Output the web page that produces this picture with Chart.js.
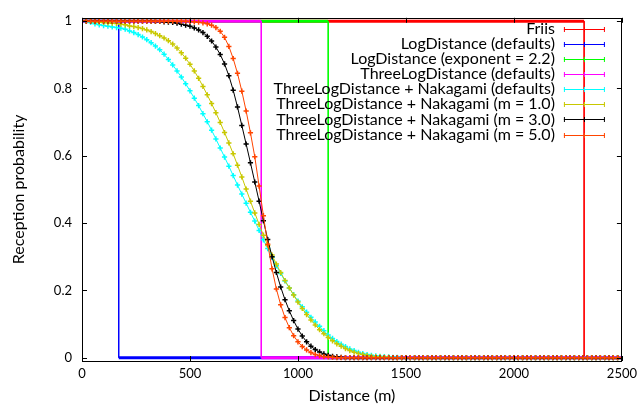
<!DOCTYPE html>
<html>
<head>
<meta charset="utf-8">
<title>Reception probability vs distance</title>
<script src="https://cdn.jsdelivr.net/npm/chart.js@4.4.0/dist/chart.umd.min.js"></script>
<style>
  html, body { margin: 0; padding: 0; background: #fff; }
  #wrap { width: 642px; height: 405px; }
</style>
</head>
<body>
<div id="wrap"><canvas id="probChart"></canvas></div>
<script>
// sampling grid of the fading curves (m)
const distances = [
  0, 20, 40, 60, 80, 100, 120, 140, 160, 180,
  200, 220, 240, 260, 280, 300, 320, 340, 360, 380,
  400, 420, 440, 460, 480, 500, 520, 540, 560, 580,
  600, 620, 640, 660, 680, 700, 720, 740, 760, 780,
  800, 820, 840, 860, 880, 900, 920, 940, 960, 980,
  1000, 1020, 1040, 1060, 1080, 1100, 1120, 1140, 1160, 1180,
  1200, 1220, 1240, 1260, 1280, 1300, 1320, 1340, 1360, 1380,
  1400, 1420, 1440, 1460, 1480, 1500, 1520, 1540, 1560, 1580,
  1600, 1620, 1640, 1660, 1680, 1700, 1720, 1740, 1760, 1780,
  1800, 1820, 1840, 1860, 1880, 1900, 1920, 1940, 1960, 1980,
  2000, 2020, 2040, 2060, 2080, 2100, 2120, 2140, 2160, 2180,
  2200, 2220, 2240, 2260, 2280, 2300, 2320, 2340, 2360, 2380,
  2400, 2420, 2440, 2460, 2480, 2500
];

// deterministic models: a single cut-off distance
const friisX = [0, 2325, 2325, 2500];
const friisY = [1, 1, 0, 0];
const logDistX = [0, 170, 170, 2500];
const logDistY = [1, 1, 0, 0];
const logDist22X = [0, 1140, 1140, 2500];
const logDist22Y = [1, 1, 0, 0];
const threeLogX = [0, 830, 830, 2500];
const threeLogY = [1, 1, 0, 0];

// ThreeLogDistance + Nakagami, one value per entry of distances
const nakDefaults = [
  1.000, 0.999, 0.996, 0.992, 0.989, 0.987, 0.985, 0.983, 0.981, 0.979,
  0.976, 0.971, 0.966, 0.960, 0.953, 0.945, 0.936, 0.926, 0.915, 0.902,
  0.886, 0.870, 0.852, 0.834, 0.814, 0.793, 0.771, 0.749, 0.725, 0.701,
  0.676, 0.650, 0.623, 0.596, 0.569, 0.541, 0.513, 0.486, 0.459, 0.432,
  0.406, 0.378, 0.350, 0.324, 0.298, 0.273, 0.250, 0.228, 0.207, 0.187,
  0.168, 0.151, 0.135, 0.120, 0.106, 0.093, 0.080, 0.067, 0.057, 0.048,
  0.040, 0.033, 0.026, 0.021, 0.016, 0.012, 0.009, 0.007, 0.005, 0.004,
  0.003, 0.002, 0.001, 0.001, 0, 0, 0, 0, 0, 0,
  0, 0, 0, 0, 0, 0, 0, 0, 0, 0,
  0, 0, 0, 0, 0, 0, 0, 0, 0, 0,
  0, 0, 0, 0, 0, 0, 0, 0, 0, 0,
  0, 0, 0, 0, 0, 0, 0, 0, 0, 0,
  0, 0, 0, 0, 0, 0
];
const nakM1 = [
  1.000, 1.000, 0.999, 0.998, 0.997, 0.996, 0.995, 0.994, 0.993, 0.991,
  0.989, 0.986, 0.984, 0.981, 0.978, 0.974, 0.969, 0.963, 0.957, 0.950,
  0.942, 0.932, 0.920, 0.906, 0.890, 0.872, 0.852, 0.830, 0.806, 0.781,
  0.755, 0.728, 0.699, 0.669, 0.638, 0.606, 0.572, 0.537, 0.501, 0.465,
  0.430, 0.396, 0.364, 0.333, 0.305, 0.278, 0.253, 0.229, 0.207, 0.186,
  0.165, 0.146, 0.128, 0.112, 0.097, 0.083, 0.071, 0.060, 0.050, 0.041,
  0.034, 0.027, 0.021, 0.016, 0.012, 0.009, 0.006, 0.004, 0.003, 0.002,
  0.001, 0.001, 0, 0, 0, 0, 0, 0, 0, 0,
  0, 0, 0, 0, 0, 0, 0, 0, 0, 0,
  0, 0, 0, 0, 0, 0, 0, 0, 0, 0,
  0, 0, 0, 0, 0, 0, 0, 0, 0, 0,
  0, 0, 0, 0, 0, 0, 0, 0, 0, 0,
  0, 0, 0, 0, 0, 0
];
const nakM3 = [
  1.000, 1.000, 1.000, 1.000, 1.000, 1.000, 1.000, 1.000, 1.000, 1.000,
  1.000, 1.000, 1.000, 1.000, 1.000, 1.000, 1.000, 0.999, 0.999, 0.998,
  0.997, 0.996, 0.994, 0.991, 0.988, 0.985, 0.980, 0.974, 0.966, 0.955,
  0.941, 0.923, 0.901, 0.873, 0.838, 0.795, 0.745, 0.690, 0.635, 0.579,
  0.522, 0.465, 0.407, 0.351, 0.300, 0.253, 0.210, 0.172, 0.139, 0.110,
  0.085, 0.064, 0.047, 0.034, 0.024, 0.017, 0.011, 0.007, 0.004, 0.002,
  0.001, 0, 0, 0, 0, 0, 0, 0, 0, 0,
  0, 0, 0, 0, 0, 0, 0, 0, 0, 0,
  0, 0, 0, 0, 0, 0, 0, 0, 0, 0,
  0, 0, 0, 0, 0, 0, 0, 0, 0, 0,
  0, 0, 0, 0, 0, 0, 0, 0, 0, 0,
  0, 0, 0, 0, 0, 0, 0, 0, 0, 0,
  0, 0, 0, 0, 0, 0
];
const nakM5 = [
  1.000, 1.000, 1.000, 1.000, 1.000, 1.000, 1.000, 1.000, 1.000, 1.000,
  1.000, 1.000, 1.000, 1.000, 1.000, 1.000, 1.000, 1.000, 1.000, 1.000,
  1.000, 1.000, 1.000, 1.000, 1.000, 0.999, 0.998, 0.997, 0.995, 0.992,
  0.988, 0.981, 0.970, 0.952, 0.925, 0.889, 0.845, 0.792, 0.733, 0.668,
  0.597, 0.510, 0.422, 0.337, 0.264, 0.204, 0.157, 0.119, 0.089, 0.065,
  0.047, 0.033, 0.023, 0.015, 0.009, 0.006, 0.003, 0.002, 0.001, 0,
  0, 0, 0, 0, 0, 0, 0, 0, 0, 0,
  0, 0, 0, 0, 0, 0, 0, 0, 0, 0,
  0, 0, 0, 0, 0, 0, 0, 0, 0, 0,
  0, 0, 0, 0, 0, 0, 0, 0, 0, 0,
  0, 0, 0, 0, 0, 0, 0, 0, 0, 0,
  0, 0, 0, 0, 0, 0, 0, 0, 0, 0,
  0, 0, 0, 0, 0, 0
];

const seriesLabels = [
  'Friis',
  'LogDistance (defaults)',
  'LogDistance (exponent = 2.2)',
  'ThreeLogDistance (defaults)',
  'ThreeLogDistance + Nakagami (defaults)',
  'ThreeLogDistance + Nakagami (m = 1.0)',
  'ThreeLogDistance + Nakagami (m = 3.0)',
  'ThreeLogDistance + Nakagami (m = 5.0)'
];
const seriesColors = ['#ff0000', '#0000ff', '#00ff00', '#ff00ff', '#00ffff', '#c8c800', '#000000', '#ff4500'];

const xTickValues = [0, 500, 1000, 1500, 2000, 2500];
const yTickValues = [0, 0.2, 0.4, 0.6, 0.8, 1];

const FONT = 'Lato, "Liberation Sans", sans-serif';

function toPoints(xs, ys) {
    return xs.map((x, i) => ({ x: x, y: ys[i] }));
}

// step lines: thick where flat (dense markers in the original), thin when dropping
function stepDataset(i, xs, ys) {
    return {
        label: seriesLabels[i],
        data: toPoints(xs, ys),
        showLine: true,
        borderColor: seriesColors[i],
        backgroundColor: seriesColors[i],
        borderWidth: 1,
        pointRadius: 0,
        order: seriesLabels.length - 1 - i,
        segment: {
            borderWidth: ctx => Math.abs(ctx.p0.y - ctx.p1.y) < 1 ? 3 : 1
        }
    };
}

function curveDataset(i, ys) {
    return {
        label: seriesLabels[i],
        data: toPoints(distances, ys),
        showLine: true,
        borderColor: seriesColors[i],
        backgroundColor: seriesColors[i],
        borderWidth: 1,
        pointStyle: 'cross',
        pointRadius: 2.6,
        pointBorderWidth: 1.5,
        pointBorderColor: seriesColors[i],
        order: seriesLabels.length - 1 - i
    };
}

// gnuplot-like frame, inward tics and key
const framePlugin = {
    id: 'frame',
    afterDatasetsDraw(chart) {
        const ctx = chart.ctx;
        const a = chart.chartArea;
        const xs = chart.scales.x;
        const ys = chart.scales.y;
        const tic = 5;
        ctx.save();
        ctx.strokeStyle = '#000';
        ctx.lineWidth = 1;
        ctx.beginPath();
        yTickValues.forEach(v => {
            const y = Math.round(ys.getPixelForValue(v)) + 0.5;
            ctx.moveTo(a.left, y); ctx.lineTo(a.left + tic, y);
            ctx.moveTo(a.right, y); ctx.lineTo(a.right - tic, y);
        });
        xTickValues.forEach(v => {
            const x = Math.round(xs.getPixelForValue(v)) + 0.5;
            ctx.moveTo(x, a.bottom); ctx.lineTo(x, a.bottom - tic);
            ctx.moveTo(x, a.top); ctx.lineTo(x, a.top + tic);
        });
        ctx.stroke();
        ctx.strokeRect(Math.round(a.left) + 0.5, Math.round(a.top) + 0.5,
            Math.round(a.right - a.left) - 1, Math.round(a.bottom - a.top));

        // key
        ctx.font = '16px ' + FONT;
        ctx.textAlign = 'right';
        ctx.textBaseline = 'middle';
        const textRight = a.right - 67;
        const lineL = a.right - 58;
        const lineR = a.right - 17;
        seriesLabels.forEach((label, i) => {
            const y = a.top + 11 + i * 15.1;
            const yy = Math.round(y) + 0.5;
            ctx.fillStyle = '#000';
            ctx.fillText(label, textRight, y);
            ctx.strokeStyle = seriesColors[i];
            ctx.lineWidth = 1;
            ctx.beginPath();
            ctx.moveTo(lineL, yy); ctx.lineTo(lineR, yy);
            ctx.moveTo(lineL + 0.5, yy - 2.5); ctx.lineTo(lineL + 0.5, yy + 2.5);
            ctx.moveTo(lineR - 0.5, yy - 2.5); ctx.lineTo(lineR - 0.5, yy + 2.5);
            const cx = Math.round((lineL + lineR) / 2) + 0.5;
            ctx.moveTo(cx - 2.5, yy); ctx.lineTo(cx + 2.5, yy);
            ctx.moveTo(cx, yy - 2.5); ctx.lineTo(cx, yy + 2.5);
            ctx.stroke();
        });
        ctx.restore();
    }
};

document.addEventListener('DOMContentLoaded', function() {
    const ctx = document.getElementById('probChart').getContext('2d');

    new Chart(ctx, {
        type: 'scatter',
        data: {
            datasets: [
                stepDataset(0, friisX, friisY),
                stepDataset(1, logDistX, logDistY),
                stepDataset(2, logDist22X, logDist22Y),
                stepDataset(3, threeLogX, threeLogY),
                curveDataset(4, nakDefaults),
                curveDataset(5, nakM1),
                curveDataset(6, nakM3),
                curveDataset(7, nakM5)
            ]
        },
        options: {
            responsive: true,
            maintainAspectRatio: false,
            animation: false,
            events: [],
            layout: {
                padding: { top: 16, right: 20, left: 0, bottom: 0 }
            },
            plugins: {
                legend: { display: false },
                tooltip: { enabled: false }
            },
            scales: {
                x: {
                    type: 'linear',
                    position: 'bottom',
                    min: 0,
                    max: 2500,
                    grid: { display: false, drawTicks: false },
                    border: { display: false },
                    afterBuildTicks: s => { s.ticks = xTickValues.map(v => ({ value: v })); },
                    afterFit: s => { s.height = 44; },
                    ticks: {
                        color: '#000',
                        font: { family: FONT, size: 13 },
                        padding: 5,
                        maxRotation: 0,
                        autoSkip: false,
                        callback: v => String(v)
                    },
                    title: {
                        display: true,
                        text: 'Distance (m)',
                        color: '#000',
                        font: { family: FONT, size: 16 },
                        padding: { top: 0, bottom: 0 }
                    }
                },
                y: {
                    type: 'linear',
                    min: -0.01,
                    max: 1.01,
                    grid: { display: false, drawTicks: false },
                    border: { display: false },
                    afterBuildTicks: s => { s.ticks = yTickValues.map(v => ({ value: v })); },
                    afterFit: s => { s.width = 82; },
                    ticks: {
                        color: '#000',
                        font: { family: FONT, size: 13 },
                        padding: 10,
                        callback: v => String(v)
                    },
                    title: {
                        display: true,
                        text: 'Reception probability',
                        color: '#000',
                        font: { family: FONT, size: 16 },
                        padding: { top: 9, bottom: 0 }
                    }
                }
            }
        },
        plugins: [framePlugin]
    });
});
</script>
</body>
</html>
